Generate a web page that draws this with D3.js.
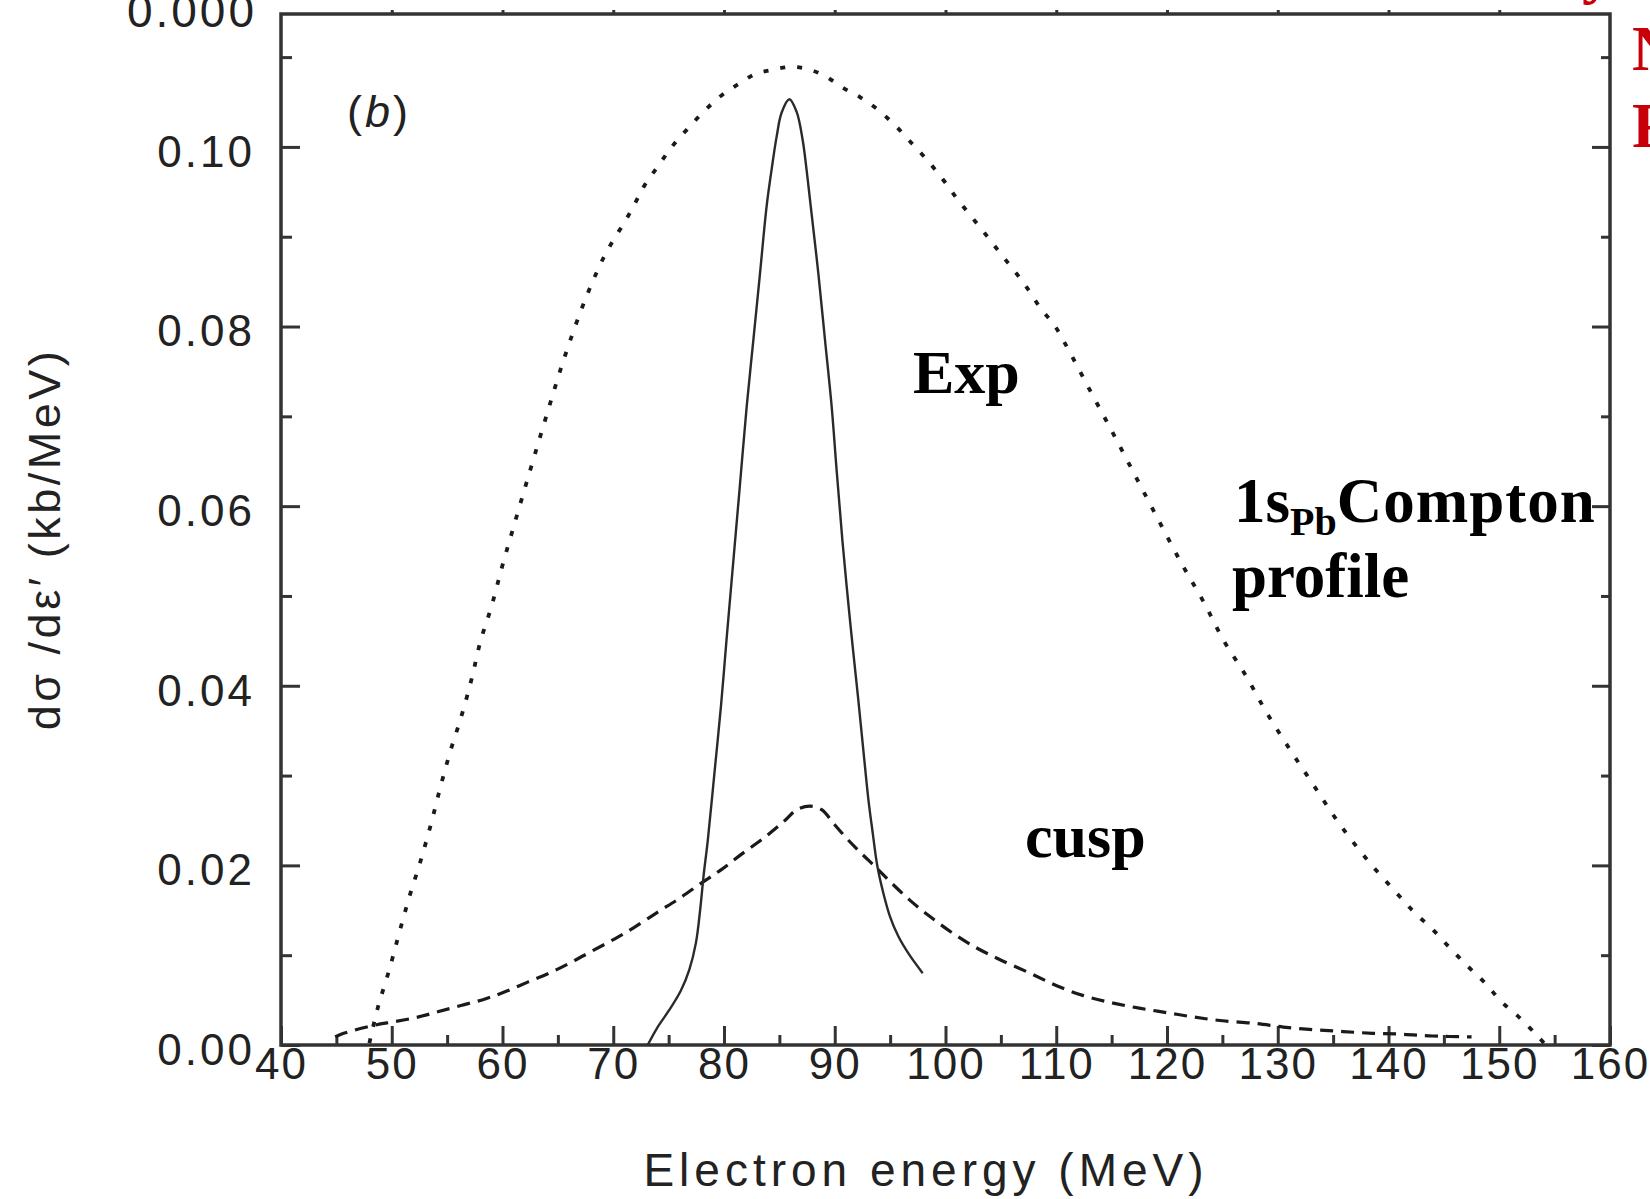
<!DOCTYPE html>
<html><head><meta charset="utf-8">
<script src="https://cdn.jsdelivr.net/npm/d3@7"></script>
<style>
html,body{margin:0;padding:0;background:#fff;overflow:hidden}
svg{display:block}
</style></head><body>
<svg id="chart" width="1650" height="1199"></svg>
<script>
// ---- data ----
const xTickValues = [40,50,60,70,80,90,100,110,120,130,140,150,160];
const xMinorValues = [45,55,65,75,85,95,105,115,125,135,145,155];
const yTickValues = [0,0.02,0.04,0.06,0.08,0.10];
const yTickLabels = ["0.00","0.02","0.04","0.06","0.08","0.10"];
const yMinorValues = [0.01,0.03,0.05,0.07,0.09,0.11];

// 1s(Pb) Compton profile (dotted)
const comptonEnergy = [47.98,48.73,49.78,50.68,51.59,52.58,53.54,54.39,55.29,56.31,57.22,58.0,59.02,59.95,60.86,
  62.5,64.0,65.5,67.0,68.1,69.1,70.0,71.06,71.96,72.86,74.07,75.28,76.63,78.14,79.64,81.3,82.8,84.4,85.96,
  87.47,89.12,90.72,92.34,93.94,95.53,96.95,98.3,99.75,101.0,102.36,103.66,104.92,106.28,107.48,108.6,109.8,
  110.8,113.0,115.0,117.0,119.0,121.32,123.28,125.09,127.13,129.0,131.1,133.2,135.47,138.03,140.89,142.39,
  144.05,145.55,147.21,148.71,150.22,151.87,153.38,154.2];
const comptonValue = [0.0002,0.0041,0.0084,0.0125,0.0165,0.0204,0.0246,0.0287,0.0327,0.0367,0.0408,0.0449,0.0489,0.0532,0.0571,
  0.0640,0.0702,0.0762,0.0815,0.0849,0.0876,0.0896,0.0917,0.0937,0.0958,0.0979,0.1000,0.1019,0.1039,0.1056,0.1070,0.1081,0.1086,0.1089,
  0.1087,0.1079,0.1066,0.1055,0.1041,0.1023,0.1004,0.0986,0.0964,0.0943,0.0922,0.0902,0.0882,0.0861,0.0841,0.0820,0.0802,
  0.0781,0.0730,0.0684,0.0637,0.0590,0.0536,0.0494,0.0451,0.0411,0.0370,0.0329,0.0290,0.0248,0.0207,0.0167,0.0147,
  0.0128,0.0108,0.0087,0.0069,0.0048,0.0030,0.0011,0.0];

// cusp (dashed)
const cuspEnergy = [44.9,45.42,48.43,50.23,52.34,54.15,56.25,58.36,60.17,62.27,64.38,66.19,67.99,70.1,71.9,74.01,75.82,
  77.92,79.73,81.53,83.64,85.5,86.56,87.77,88.82,89.88,91.08,92.43,93.79,94.99,96.8,98.6,100.71,102.82,104.93,
  107.63,110.04,112.45,115.0,117.5,120.0,122.5,125.0,128.0,130.5,133.2,135.9,138.6,141.3,144.0,147.5];
const cuspValue = [0.0009,0.0012,0.0022,0.0026,0.0031,0.0037,0.0044,0.0051,0.0059,0.0070,0.0081,0.0092,0.0104,0.0118,0.0131,0.0148,0.0162,
  0.0180,0.0195,0.0212,0.0231,0.0250,0.0262,0.0266,0.0262,0.0247,0.0230,0.0213,0.0197,0.0182,0.0161,0.0143,0.0124,0.0108,0.0095,
  0.0080,0.0066,0.0055,0.0047,0.0041,0.0036,0.0031,0.0027,0.0024,0.0020,0.0017,0.0015,0.0013,0.0012,0.0010,0.0009];

// Exp (solid)
const expEnergy = [73.11,74.01,75.06,76.12,76.87,77.47,77.86,78.16,78.53,79.13,79.73,80.24,80.78,81.4,82.05,82.65,
  83.25,83.85,84.3,84.76,85.2,85.9,86.56,87.1,87.47,87.83,88.52,89.12,89.72,90.17,90.69,91.4,92.13,92.43,92.73,
  93.04,93.43,93.85,94.39,94.99,95.74,96.65,97.94];
const expValue = [0.0,0.0020,0.0039,0.0061,0.0084,0.0114,0.0152,0.0189,0.0227,0.0302,0.0378,0.0453,0.0530,0.0618,0.0711,0.0785,
  0.0859,0.0934,0.0975,0.1012,0.1038,0.1053,0.1039,0.1008,0.0973,0.0934,0.0859,0.0785,0.0711,0.0640,0.0562,0.0470,0.0384,0.0347,0.0310,
  0.0273,0.0236,0.0199,0.0169,0.0143,0.0121,0.0102,0.0080];

// ---- drawing ----
const svg = d3.select("#chart");
const x = d3.scaleLinear().domain([40,160]).range([281,1610]);
const y = d3.scaleLinear().domain([0,0.1148]).range([1045,14]);

const tickFont = "'Liberation Sans', Arial, Helvetica, sans-serif";
const ink = "#222";

function styleAxis(g){
  g.select(".domain").remove();
  g.selectAll(".tick line").attr("stroke", "#333").attr("stroke-width", 3);
}
// minor ticks
svg.append("g").attr("transform","translate(0,1045)")
  .call(d3.axisBottom(x).tickValues(xMinorValues).tickSize(-10).tickFormat(""))
  .call(styleAxis);
svg.append("g").attr("transform","translate(281,0)")
  .call(d3.axisLeft(y).tickValues(yMinorValues).tickSize(-11).tickFormat(""))
  .call(styleAxis);
svg.append("g").attr("transform","translate(1610,0)")
  .call(d3.axisRight(y).tickValues(yMinorValues).tickSize(-9).tickFormat(""))
  .call(styleAxis);

// major ticks + labels
const gx = svg.append("g").attr("transform","translate(0,1045)")
  .call(d3.axisBottom(x).tickValues(xTickValues).tickSize(-19).tickPadding(3).tickFormat(d3.format("d")))
  .call(styleAxis);
gx.selectAll("text").attr("font-family", tickFont).attr("font-size", 44)
  .attr("letter-spacing", "2px").attr("fill", ink);

const gy = svg.append("g").attr("transform","translate(281,0)")
  .call(d3.axisLeft(y).tickValues(yTickValues).tickSize(-19).tickPadding(26)
        .tickFormat((d,i)=>yTickLabels[i]))
  .call(styleAxis);
gy.selectAll("text").attr("font-family", tickFont).attr("font-size", 44)
  .attr("letter-spacing", "3px").attr("dy", "0.44em").attr("fill", ink);

svg.append("g").attr("transform","translate(1610,0)")
  .call(d3.axisRight(y).tickValues(yTickValues).tickSize(-18).tickFormat(""))
  .call(styleAxis);
svg.append("g").attr("transform","translate(0,14)")
  .call(d3.axisTop(x).tickValues(xTickValues.slice(1,-1)).tickSize(4).tickFormat(""))
  .call(styleAxis);

// frame
svg.append("rect").attr("x", x(40)).attr("y", y(0.1148))
  .attr("width", x(160)-x(40)).attr("height", y(0)-y(0.1148))
  .attr("fill","none").attr("stroke","#333").attr("stroke-width",3.5);

// clipped label belonging to the panel above
svg.append("text").attr("x", 257).attr("y", 27).attr("text-anchor","end")
  .attr("font-family", tickFont).attr("font-size", 46).attr("letter-spacing","3px")
  .attr("fill", ink).text("0.000");

// curves
const line = d3.line().x(d=>x(d[0])).y(d=>y(d[1])).curve(d3.curveCatmullRom.alpha(0.5));
const compton = comptonEnergy.map((e,i)=>[e, comptonValue[i]]);
const cusp = cuspEnergy.map((e,i)=>[e, cuspValue[i]]);
const expd = expEnergy.map((e,i)=>[e, expValue[i]]);

svg.append("path").datum(compton).attr("d", line).attr("fill","none")
  .attr("stroke","#1a1a1a").attr("stroke-width",3.8).attr("stroke-dasharray","5,12");
svg.append("path").datum(cusp).attr("d", line).attr("fill","none")
  .attr("stroke","#1a1a1a").attr("stroke-width",3.2).attr("stroke-dasharray","13,8");
svg.append("path").datum(expd).attr("d", line).attr("fill","none")
  .attr("stroke","#2a2a2a").attr("stroke-width",2.4);

// axis titles
svg.append("text").attr("x", 926).attr("y", 1186).attr("text-anchor","middle")
  .attr("font-family", tickFont).attr("font-size", 46).attr("letter-spacing","5px")
  .attr("fill", ink).text("Electron energy (MeV)");
svg.append("text").attr("transform","translate(60,539) rotate(-90)").attr("text-anchor","middle")
  .attr("font-family", tickFont).attr("font-size", 45).attr("letter-spacing","3.5px")
  .attr("fill", ink).text("dσ /dε′ (kb/MeV)");

// panel label
const pl = svg.append("text").attr("x", 347).attr("y", 127)
  .attr("font-family", tickFont).attr("font-size", 45).attr("letter-spacing","3px").attr("fill", ink);
pl.append("tspan").text("(");
pl.append("tspan").attr("font-style","italic").text("b");
pl.append("tspan").text(")");

// annotations
const serif = "'Liberation Serif', 'Times New Roman', serif";
svg.append("text").attr("x", 913).attr("y", 393).attr("font-family", serif)
  .attr("font-weight","bold").attr("font-size", 62).attr("fill","#000").text("Exp");
svg.append("text").attr("x", 1025).attr("y", 857).attr("font-family", serif)
  .attr("font-weight","bold").attr("font-size", 62).attr("fill","#000").text("cusp");
const cp = svg.append("text").attr("x", 1234).attr("y", 522).attr("font-family", serif)
  .attr("font-weight","bold").attr("font-size", 63).attr("fill","#000");
cp.append("tspan").text("1s");
cp.append("tspan").attr("font-size", 40).attr("dy", 13).text("Pb");
cp.append("tspan").attr("dy", -13).attr("letter-spacing","1px").text("Compton");
svg.append("text").attr("x", 1232).attr("y", 597).attr("font-family", serif)
  .attr("font-weight","bold").attr("font-size", 63).attr("fill","#000").text("profile");

// red slide text cut by the image edge
const red = "#c8000a";
svg.append("text").attr("x", 1632).attr("y", 70).attr("font-family", serif)
  .attr("font-weight","bold").attr("font-size", 64).attr("fill", red).text("N");
svg.append("text").attr("x", 1632).attr("y", 147).attr("font-family", serif)
  .attr("font-weight","bold").attr("font-size", 64).attr("fill", red).text("F");
svg.append("text").attr("x", 1582).attr("y", -9).attr("font-family", serif)
  .attr("font-weight","bold").attr("font-size", 64).attr("fill", red).text("y");
</script>
</body></html>
